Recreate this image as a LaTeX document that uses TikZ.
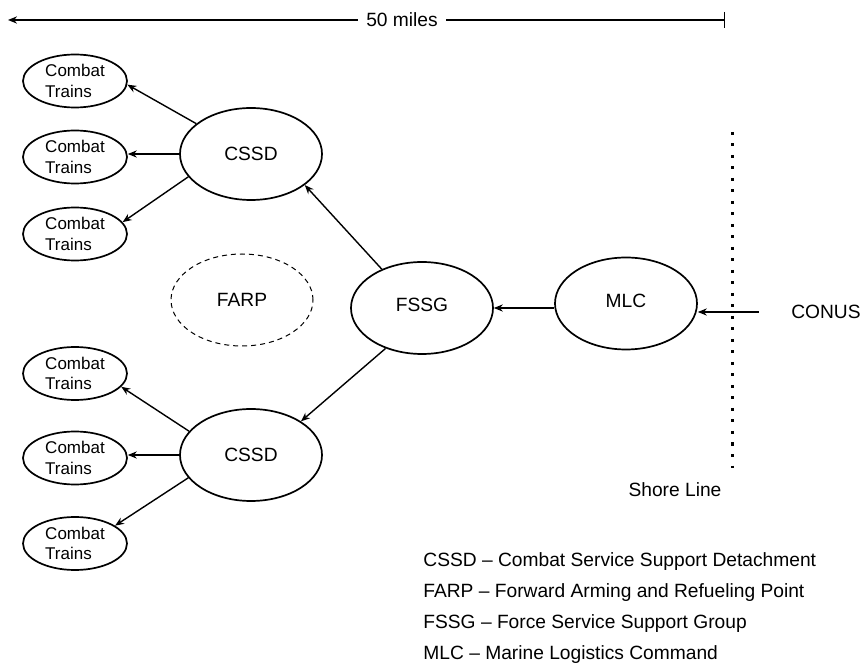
\documentclass[tikz,border=0pt]{standalone}
\usepackage{fontspec}
\setmainfont{Liberation Sans}
\usepackage{tikz}
\usetikzlibrary{arrows.meta}
\usetikzlibrary{shapes.geometric}
\newcommand\combat{Combat\\Trains}
\tikzstyle{unit}=[ellipse,draw,line width=.85pt,inner sep=0pt,minimum width=71pt,minimum height=46pt]
\tikzstyle{trains}=[unit,minimum width=52pt,minimum height=26.5pt,align=left,font=\fontsize{8.5pt}{10.3pt}\selectfont]
\tikzstyle{planned}=[unit,line width=.5pt,dash pattern=on 2.5pt off 2pt]
\tikzstyle{flowhead}=[>/.tip={Stealth[length=4.5pt,width=3.6pt]},|/.tip={Bar[width=8pt]}]
\tikzstyle{flow}=[line width=.7pt,flowhead,->]
\tikzstyle{shore}=[line width=1.5pt,dash pattern=on 1.5pt off 4.25pt]
\tikzstyle{gloss}=[anchor=base west,inner sep=0pt]

\begin{document}
\begin{tikzpicture}[x=.5pt,y=-.5pt,font=\fontsize{9.6pt}{11pt}\selectfont]
	\useasboundingbox (0,0) rectangle (863,663);
	% scale
	\coordinate (scaleL) at (8,20);
	\coordinate (scaleR) at (725,20);
	\node[inner sep=4pt] (miles) at (402,20) {50 miles};
	\draw[flow] (miles) -- (scaleL);
	\draw[flow,-|] (miles) -- (scaleR);
	% units
	\node[unit] (cssdA) at (251,154) {CSSD};
	\node[unit] (cssdB) at (251,455) {CSSD};
	\node[trains] (ctA1) at (75,81) {\combat};
	\node[trains] (ctA2) at (75,157) {\combat};
	\node[trains] (ctA3) at (75,234) {\combat};
	\node[trains] (ctB1) at (75,373.5) {\combat};
	\node[trains] (ctB2) at (75,458) {\combat};
	\node[trains] (ctB3) at (75,543.5) {\combat};
	\node[planned] (farp) at (242,300) {FARP};
	\node[unit] (fssg) at (422,308) {\raisebox{3pt}{FSSG}};
	\node[unit] (mlc) at (626,303.5) {\raisebox{3pt}{MLC}};
	\node[inner sep=0pt] (conus) at (826,312) {CONUS};
	\draw[flow] (cssdA.151) -- (ctA1.-4);
	\draw[flow] (cssdA.west) -- (cssdA.west -| ctA2.east);
	\draw[flow] (cssdA.200) -- (ctA3.14);
	\draw[flow] (cssdB.159) -- (ctB1.-16);
	\draw[flow] (cssdB.west) -- (cssdB.west -| ctB2.east);
	\draw[flow] (cssdB.200) -- (ctB3.24);
	\draw[flow] (fssg.136) -- (cssdA.-30);
	\draw[flow] (fssg.228) -- (cssdB.34);
	\draw[flow] (mlc.west |- fssg) -- (fssg.east);
	\draw[flow,shorten <=16pt] (conus.west) -- (conus.west -| mlc.east);
	% shore
	\coordinate (shoreT) at (732,132);
	\coordinate (shoreB) at (732,468);
	\draw[shore] (shoreT) -- (shoreB);
	\node (shoreline) at (675,490) {Shore Line};
	% legend
	\node[gloss] (gCSSD) at (423,567) {CSSD -- Combat Service Support Detachment};
	\node[gloss] (gFARP) at (423,597.5) {FARP -- Forward Arming and Refueling Point};
	\node[gloss] (gFSSG) at (423,628.5) {FSSG -- Force Service Support Group};
	\node[gloss] (gMLC) at (423,659.5) {MLC -- Marine Logistics Command};
\end{tikzpicture}
\end{document}
